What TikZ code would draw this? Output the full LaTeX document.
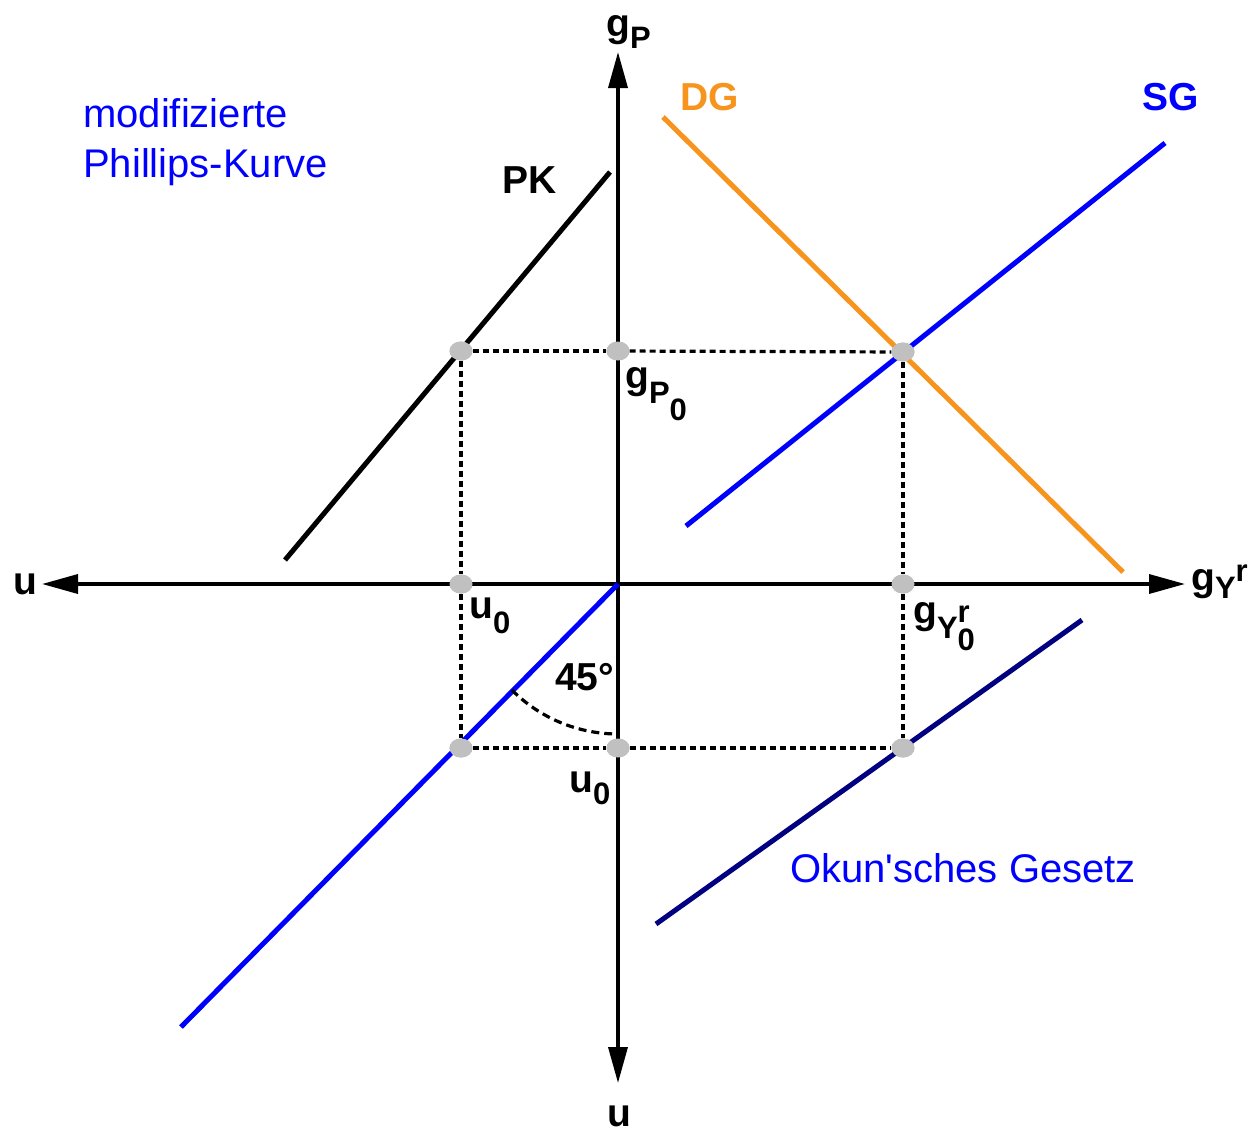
\documentclass[tikz,border=0pt]{standalone}
\usepackage{fontspec}
\setmainfont{Liberation Sans}
\usetikzlibrary{arrows.meta,shapes.geometric}
\definecolor{dgorange}{RGB}{247,148,29}
\definecolor{okunnavy}{RGB}{0,0,128}
\definecolor{dotgray}{RGB}{192,192,192}
\newcommand\bigfont{\fontsize{39}{46}\selectfont}
\newcommand\regfont{\fontsize{40}{48}\selectfont}
\newcommand\subfont{\fontsize{31}{33}\selectfont}
\newcommand\lowered[2]{\raisebox{-#1pt}{\subfont #2}}
\begin{document}
\begin{tikzpicture}[x=1pt,y=-1pt,
  >={Triangle[length=36pt,width=19pt]},
  axisline/.style={line width=3.5pt, <->},
  curve/.style={line width=5pt},
  guide/.style={line width=3.2pt, dash pattern=on 6pt off 4pt},
  arcline/.style={line width=3.2pt, dash pattern=on 8pt off 5pt},
  dot/.style={ellipse, fill=dotgray, draw=none, minimum width=23pt, minimum height=19pt, inner sep=0pt},
  lbl/.style={font=\bigfont\bfseries, inner sep=0pt, anchor=base west},
  txt/.style={font=\regfont, inner sep=0pt, anchor=base west, text=blue}]
\useasboundingbox (0,0) rectangle (1256,1130);
% axis end points
\coordinate (O) at (618,584);
\coordinate (axL) at (42,584);
\coordinate (axR) at (1185,584);
\coordinate (axT) at (618,52);
\coordinate (axB) at (618,1083);
% curve end points
\coordinate (pkA) at (285,560);
\coordinate (pkB) at (610,172);
\coordinate (dgA) at (663,117);
\coordinate (dgB) at (1123,572);
\coordinate (sgA) at (686,526);
\coordinate (sgB) at (1165,143);
\coordinate (okA) at (656,924);
\coordinate (okB) at (1082,620);
\coordinate (dlB) at (181,1027);
% dots
\node[dot] (d1) at (461,351) {};
\node[dot] (d2) at (618,351) {};
\node[dot] (d3) at (903,352) {};
\node[dot] (d4) at (461,584) {};
\node[dot] (d5) at (903,584) {};
\node[dot] (d6) at (461,748) {};
\node[dot] (d7) at (618,748) {};
\node[dot] (d8) at (903,748) {};
% guide lines
\draw[guide] (d1) -- (d2);
\draw[guide] (d2) -- (d3);
\draw[guide] (d1) -- (d4);
\draw[guide] (d4) -- (d6);
\draw[guide] (d3) -- (d5);
\draw[guide] (d5) -- (d8);
\draw[guide] (d6) -- (d7);
\draw[guide] (d7) -- (d8);
% axes
\draw[axisline] (axL) -- (axR);
\draw[axisline] (axB) -- (axT);
% curves
\draw[curve, black] (pkA) -- (pkB);
\draw[curve, dgorange] (dgA) -- (dgB);
\draw[curve, blue] (sgA) -- (sgB);
\draw[curve, okunnavy] (okA) -- (okB);
\draw[curve, blue] (O) -- (dlB);
% 45 degree arc
\draw[arcline] (O) ++(135:150) arc[start angle=135, end angle=90, radius=150];
% redraw dots on top
\foreach \p in {d1,d2,d3,d4,d5,d6,d7,d8} {\fill[dotgray] (\p) ellipse[x radius=11.5, y radius=9.5];}
% labels
\node[lbl] (lgp) at (606,36) {g\lowered{12}{P}};
\node[lbl] (lul) at (13,594) {u};
\node[lbl] (lgy) at (1191,590) {g\lowered{8}{Y\raisebox{17pt}{r}}};
\node[lbl] (lub) at (607,1126) {u};
\node[lbl] (lgp0) at (625,388) {g\lowered{15}{P\lowered{17}{0}}};
\node[lbl] (lgy0) at (913,623) {g\lowered{15}{Y\rlap{\raisebox{16pt}{r}}\lowered{12}{0}}};
\node[lbl] (lu0a) at (469,618) {u\lowered{15}{0}};
\node[lbl] (lu0b) at (569,792) {u\lowered{12}{0}};
\node[lbl] (l45) at (555,690) {45°};
\node[lbl] (lpk) at (502,193) {PK};
\node[lbl, text=dgorange] (ldg) at (680,110) {DG};
\node[lbl, text=blue] (lsg) at (1142,110) {SG};
\node[txt] (lm1) at (83,127) {modifizierte};
\node[txt] (lm2) at (83,177) {Phillips-Kurve};
\node[txt] (lok) at (790,882) {Okun\textquotesingle sches Gesetz};
\end{tikzpicture}
\end{document}
